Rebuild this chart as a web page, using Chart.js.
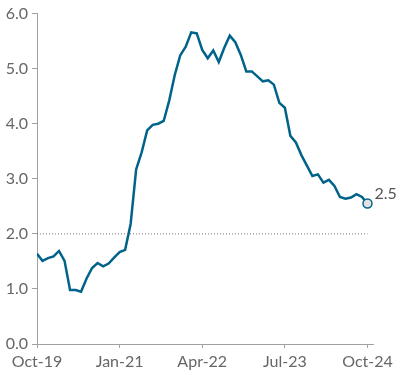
<!DOCTYPE html>
<html lang="en">
<head>
  <meta charset="UTF-8" />
  <title>Chart</title>
  <script src="https://cdn.jsdelivr.net/npm/chart.js"></script>
  <style>
    html, body { margin: 0; padding: 0; background: #fff; }
    #wrap { width: 401px; height: 377px; position: relative; }
  </style>
</head>
<body>
  <div id="wrap"><canvas id="chart"></canvas></div>

  <script>
    // months Oct-19 .. Oct-24
    const monthNames = ['Jan','Feb','Mar','Apr','May','Jun','Jul','Aug','Sep','Oct','Nov','Dec'];
    const months = [];
    for (let k = 0; k < 61; k++) {
      const m = (9 + k) % 12;
      const y = 19 + Math.floor((9 + k) / 12);
      months.push(monthNames[m] + '-' + y);
    }

    const values = [
      1.64, 1.51, 1.56, 1.59, 1.69, 1.51, 0.98, 0.98, 0.95, 1.19,
      1.38, 1.47, 1.41, 1.46, 1.57, 1.67, 1.71, 2.18, 3.17, 3.48,
      3.88, 3.98, 4.00, 4.05, 4.42, 4.88, 5.24, 5.40, 5.66, 5.64,
      5.34, 5.19, 5.33, 5.12, 5.38, 5.60, 5.48, 5.25, 4.95, 4.95,
      4.86, 4.77, 4.79, 4.71, 4.38, 4.29, 3.78, 3.66, 3.43, 3.24,
      3.05, 3.08, 2.93, 2.98, 2.87, 2.67, 2.64, 2.66, 2.72, 2.67,
      2.55
    ];
    const lastLabel = '2.5';
    const refLevel = 2.0;
    const xTicks = [0, 15, 30, 45, 60];
    const yTicks = [0, 1, 2, 3, 4, 5, 6];

    const lineColor = '#00638a';
    const axisColor = '#a0a0a0';
    const textColor = '#666';

    const lastIdx = values.length - 1;

    const endLabel = {
      id: 'endLabel',
      afterDatasetsDraw(chart) {
        const pt = chart.getDatasetMeta(1).data[lastIdx];
        const ctx = chart.ctx;
        ctx.save();
        ctx.font = '16px Lato, sans-serif';
        ctx.fillStyle = '#555';
        ctx.textAlign = 'left';
        ctx.textBaseline = 'middle';
        ctx.fillText(lastLabel, pt.x + 7, pt.y - 10);
        ctx.restore();
      }
    };

    new Chart(document.getElementById('chart'), {
      type: 'line',
      data: {
        datasets: [
          {
            data: [{ x: 0, y: refLevel }, { x: lastIdx, y: refLevel }],
            borderColor: '#777',
            borderWidth: 1,
            borderDash: [1, 2],
            pointRadius: 0
          },
          {
            data: values.map((v, i) => ({ x: i, y: v })),
            borderColor: lineColor,
            borderWidth: 2.5,
            tension: 0,
            pointRadius: values.map((v, i) => i === lastIdx ? 4.5 : 0),
            pointBackgroundColor: '#e2e2e2',
            pointBorderColor: lineColor,
            pointBorderWidth: 1.5
          }
        ]
      },
      options: {
        responsive: true,
        maintainAspectRatio: false,
        animation: false,
        layout: { padding: { top: 12, right: 28, bottom: 0, left: 0 } },
        plugins: { legend: { display: false }, tooltip: { enabled: false } },
        scales: {
          x: {
            type: 'linear',
            min: 0,
            max: 61,
            afterBuildTicks: (scale) => { scale.ticks = xTicks.map(v => ({ value: v })); },
            afterFit: (scale) => { scale.height = 33; },
            grid: { drawOnChartArea: false, drawTicks: true, tickLength: 4, color: axisColor },
            border: { display: true, color: axisColor, width: 1 },
            ticks: {
              color: textColor,
              font: { family: 'Lato', size: 16 },
              padding: 4,
              maxRotation: 0,
              callback: (v) => months[v]
            }
          },
          y: {
            min: 0,
            max: 6,
            afterBuildTicks: (scale) => { scale.ticks = yTicks.map(v => ({ value: v })); },
            afterFit: (scale) => { scale.width = 37; },
            grid: { drawOnChartArea: false, drawTicks: true, tickLength: 5, color: axisColor },
            border: { display: true, color: axisColor, width: 1 },
            ticks: {
              color: textColor,
              font: { family: 'Lato', size: 16 },
              padding: 4,
              callback: (v) => v.toFixed(1)
            }
          }
        }
      },
      plugins: [endLabel]
    });
  </script>
</body>
</html>
